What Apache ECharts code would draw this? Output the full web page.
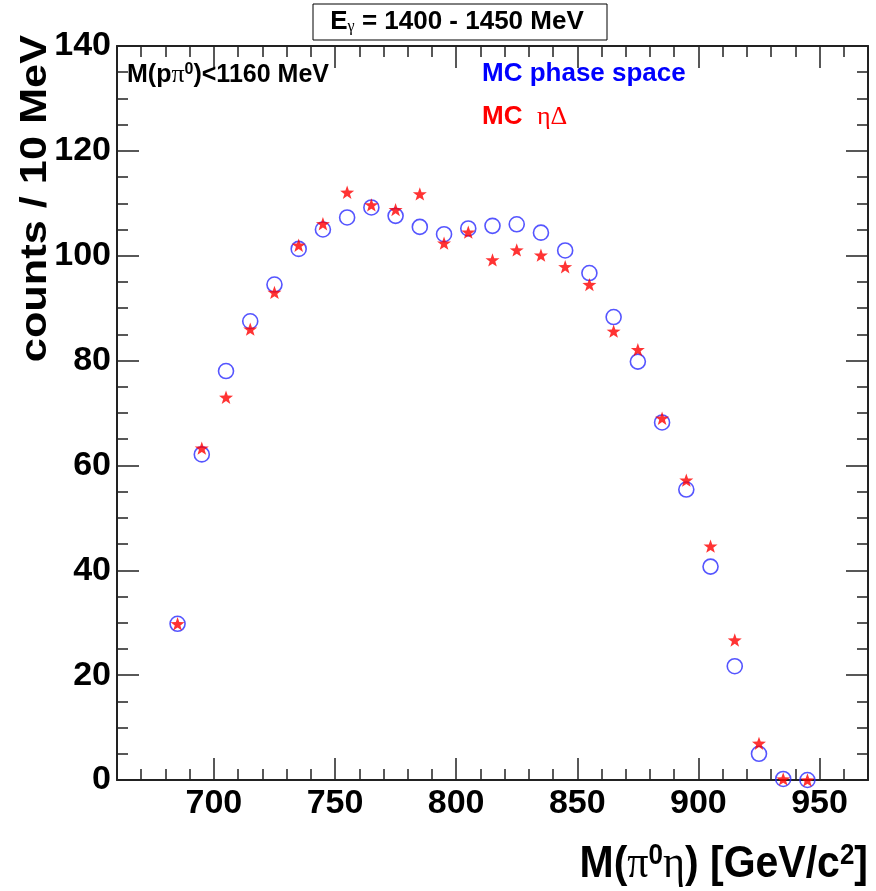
<!DOCTYPE html>
<html>
<head>
<meta charset="utf-8">
<script src="https://cdn.jsdelivr.net/npm/echarts@6/dist/echarts.min.js"></script>
<style>
html,body{margin:0;padding:0;background:#fff;}
#chart{width:876px;height:891px;}
</style>
</head>
<body>
<div id="chart"></div>
<script>
// M(pi0 eta) bin centres [MeV]
const massBins = [685, 695, 705, 715, 725, 735, 745, 755, 765, 775, 785, 795, 805, 815, 825, 835, 845, 855, 865, 875, 885, 895, 905, 915, 925, 935, 945];
// MC phase space (blue open circles)
const phaseSpace = [29.8, 62.1, 78.0, 87.5, 94.5, 101.3, 105.0, 107.3, 109.2, 107.6, 105.5, 104.1, 105.2, 105.7, 106.0, 104.4, 101.0, 96.7, 88.3, 79.8, 68.2, 55.4, 40.7, 21.7, 5.0, 0.2, 0.0];
// MC eta Delta (red stars)
const etaDelta = [29.8, 63.3, 73.0, 86.0, 93.0, 102.0, 106.1, 112.1, 109.7, 108.8, 111.8, 102.4, 104.5, 99.2, 101.1, 100.1, 97.9, 94.5, 85.6, 82.1, 69.0, 57.2, 44.6, 26.7, 7.0, 0.2, 0.0];
// axis tick labels
const xMajorTicks = [700, 750, 800, 850, 900, 950];
const yTicks = [0, 20, 40, 60, 80, 100, 120, 140];

const FONT = 'Liberation Sans';
const SERIF = 'Liberation Serif';
const AX = '#222';

const chart = echarts.init(document.getElementById('chart'), null, {renderer: 'canvas'});

const starPath = 'path://M0,-10 L2.35,-3.24 L9.51,-3.09 L3.80,1.24 L5.88,8.09 L0,4.2 L-5.88,8.09 L-3.80,1.24 L-9.51,-3.09 L-2.35,-3.24 Z';

function xAxisMajor(pos, showLabel) {
  return {
    type: 'value', position: pos, min: 660, max: 970,
    axisLine: {show: true, onZero: false, lineStyle: {color: AX, width: 2}},
    axisTick: {show: true, inside: true, length: 22, customValues: xMajorTicks, lineStyle: {color: AX, width: 1.5}},
    axisLabel: {show: showLabel, customValues: xMajorTicks, margin: 7, fontSize: 34, fontWeight: 'bold', fontFamily: FONT, color: '#000'},
    splitLine: {show: false}
  };
}
function xAxisMinor(pos) {
  return {
    type: 'value', position: pos, min: 660, max: 970, interval: 10,
    axisLine: {show: false, onZero: false},
    axisTick: {show: true, inside: true, length: 11, lineStyle: {color: AX, width: 1.5}},
    axisLabel: {show: false},
    splitLine: {show: false}
  };
}
function yAxisDef(pos, showLabel) {
  return {
    type: 'value', position: pos, min: 0, max: 140, interval: 20,
    axisLine: {show: true, onZero: false, lineStyle: {color: AX, width: 2}},
    axisTick: {show: true, inside: true, length: 22, lineStyle: {color: AX, width: 1.5}},
    minorTick: {show: true, splitNumber: 4, length: 11, lineStyle: {color: AX, width: 1.5}},
    axisLabel: {show: showLabel, margin: 6, fontSize: 34, fontWeight: 'bold', fontFamily: FONT, color: '#000',
      formatter: v => (yTicks.indexOf(v) >= 0 ? String(v) : '')},
    splitLine: {show: false}
  };
}

const option = {
  animation: false,
  backgroundColor: '#fff',
  grid: {left: 117, right: 8, top: 46, bottom: 111, containLabel: false, outerBoundsMode: 'none'},
  xAxis: [xAxisMajor('bottom', true), xAxisMinor('bottom'), xAxisMajor('top', false), xAxisMinor('top')],
  yAxis: [yAxisDef('left', true), yAxisDef('right', false)],
  series: [
    {
      name: 'MC phase space', type: 'scatter', xAxisIndex: 0, yAxisIndex: 0, clip: false,
      symbol: 'circle', symbolSize: 15,
      itemStyle: {color: 'rgba(0,0,0,0)', borderColor: '#2a2aff', borderWidth: 1.6},
      data: massBins.map((m, i) => [m, phaseSpace[i]]),
      z: 2
    },
    {
      name: 'MC etaDelta', type: 'scatter', xAxisIndex: 0, yAxisIndex: 0, clip: false,
      symbol: starPath, symbolSize: 14, symbolKeepAspect: true,
      itemStyle: {color: '#ff0000'},
      data: massBins.map((m, i) => [m, etaDelta[i]]),
      z: 3
    }
  ],
  graphic: [
    {type: 'rect', shape: {x: 313, y: 4, width: 294, height: 36}, style: {fill: '#fff', stroke: '#000', lineWidth: 1}, z: 10},
    {type: 'text', x: 457, y: 22, z: 11, style: {
      text: '{b|E}{sub|γ}{b| = 1400 - 1450 MeV}', align: 'center', verticalAlign: 'middle', fill: '#000',
      rich: {b: {fontSize: 26, fontWeight: 'bold', fontFamily: FONT, fill: '#000'},
             sub: {fontSize: 16, fontFamily: SERIF, verticalAlign: 'bottom', fill: '#000'}}
    }},
    {type: 'text', x: 127, y: 75, z: 11, style: {
      text: '{b|M(p}{g|π}{sup|0}{b|)<1160 MeV}', align: 'left', verticalAlign: 'middle', fill: '#000',
      rich: {b: {fontSize: 25, fontWeight: 'bold', fontFamily: FONT, fill: '#000'},
             g: {fontSize: 26, fontFamily: SERIF, fill: '#000'},
             sup: {fontSize: 16, fontWeight: 'bold', fontFamily: FONT, verticalAlign: 'top', fill: '#000'}}
    }},
    {type: 'text', x: 482, y: 74, z: 11, style: {
      text: 'MC phase space', align: 'left', verticalAlign: 'middle', fill: '#0000ff',
      fontSize: 26, fontWeight: 'bold', fontFamily: FONT
    }},
    {type: 'text', x: 482, y: 117, z: 11, style: {
      text: '{b|MC  }{g|ηΔ}', align: 'left', verticalAlign: 'middle', fill: '#ff0000',
      rich: {b: {fontSize: 26, fontWeight: 'bold', fontFamily: FONT, fill: '#ff0000'},
             g: {fontSize: 26, fontFamily: SERIF, fill: '#ff0000'}}
    }},
    {type: 'text', x: 868, y: 888, z: 11, scaleY: 1.1, originX: 0, originY: 0, style: {
      text: '{b|M(}{g|π}{sup|0}{g|η}{b|) [GeV/c}{sup|2}{b|]}', align: 'right', verticalAlign: 'bottom', fill: '#000',
      rich: {b: {fontSize: 41, fontWeight: 'bold', fontFamily: FONT, fill: '#000'},
             g: {fontSize: 42, fontFamily: SERIF, fill: '#000'},
             sup: {fontSize: 26, fontWeight: 'bold', fontFamily: FONT, verticalAlign: 'top', fill: '#000'}}
    }},
    {type: 'text', x: 36, y: 35, rotation: Math.PI / 2, scaleX: 1.17, z: 11, style: {
      text: 'counts / 10 MeV', align: 'right', verticalAlign: 'middle', fill: '#000',
      fontSize: 37, fontWeight: 'bold', fontFamily: FONT
    }}
  ]
};
chart.setOption(option);
</script>
</body>
</html>
